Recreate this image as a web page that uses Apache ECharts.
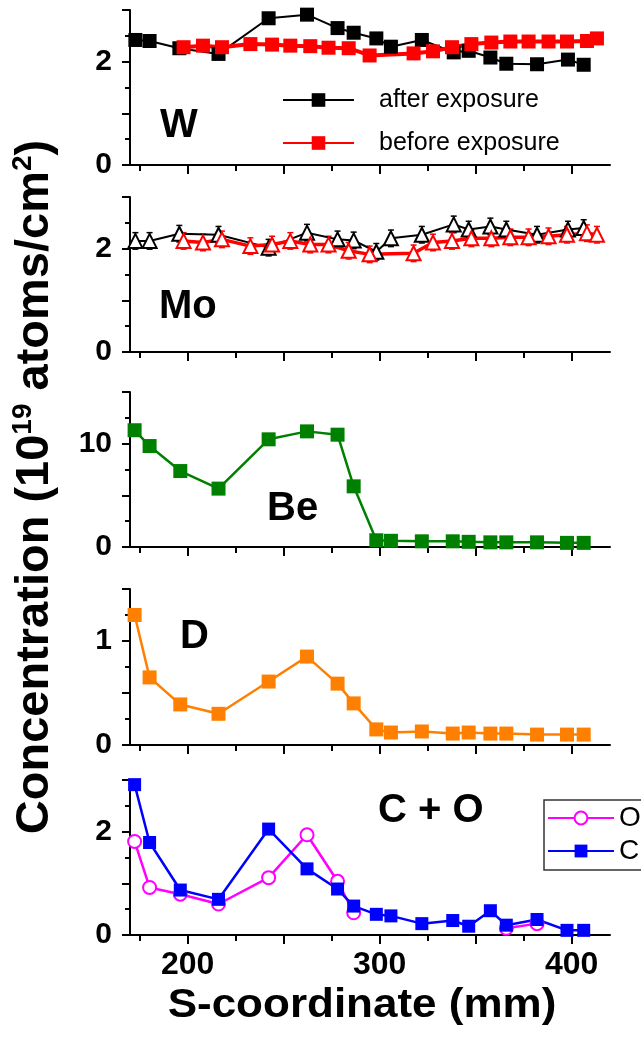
<!DOCTYPE html>
<html><head><meta charset="utf-8">
<script src="https://cdn.jsdelivr.net/npm/echarts@6/dist/echarts.min.js"></script>
<style>html,body{margin:0;padding:0;background:#fff}#c{width:641px;height:1047px}</style>
</head><body><div id="c"></div>
<script>
// ---------- data (S-coordinate in mm, concentration in 1e19 atoms/cm2) ----------
const wAfterX  = [172.8,180.2,195.7,216.1,242.2,262.2,278.1,286.5,298.3,305.9,322,338.6,346.4,357.7,366,382,398.1,406.3];
const wAfterY  = [2.42,2.40,2.26,2.15,2.84,2.91,2.65,2.56,2.45,2.29,2.42,2.18,2.21,2.08,1.96,1.95,2.04,1.94];
const wBeforeX = [197.9,208,217.9,232.7,244,253.5,263.9,273.4,283.9,294.8,317.7,327.8,337.7,347.8,358.2,368.1,377.6,388,397.6,408,413.2];
const wBeforeY = [2.28,2.31,2.28,2.34,2.33,2.31,2.30,2.27,2.26,2.12,2.16,2.20,2.28,2.34,2.37,2.39,2.39,2.39,2.39,2.40,2.45];

const moAfterX  = [172.8,180.2,195.7,216.1,242.2,262.2,278.1,286.5,298.3,305.9,322,338.6,346.4,357.7,366,382,398.1,406.3];
const moAfterY  = [2.15,2.15,2.29,2.27,2.02,2.31,2.18,2.16,1.94,2.20,2.27,2.47,2.37,2.43,2.37,2.27,2.37,2.40];
const moBeforeX = [197.9,208,217.9,232.7,244,253.5,263.9,273.4,283.9,294.8,317.7,327.8,337.7,347.8,358.2,368.1,377.6,388,397.6,408,413.2];
const moBeforeY = [2.15,2.12,2.18,2.05,2.08,2.15,2.08,2.08,1.96,1.89,1.91,2.12,2.15,2.20,2.20,2.22,2.22,2.24,2.27,2.30,2.27];
const moErr = 0.16;

const sX  = [172.4,180.2,196.2,216.1,242.2,262.2,278.1,286.5,298.3,305.9,322,338.1,346.4,357.7,366,382,397.6,406.3];
const beY = [11.3,9.77,7.35,5.65,10.42,11.19,10.87,5.87,0.65,0.60,0.55,0.55,0.50,0.45,0.45,0.45,0.40,0.40];
const dY  = [1.25,0.65,0.39,0.30,0.61,0.85,0.59,0.40,0.15,0.12,0.13,0.11,0.12,0.11,0.11,0.10,0.10,0.10];
const cY  = [2.91,1.79,0.87,0.69,2.05,1.28,0.89,0.56,0.40,0.37,0.22,0.28,0.17,0.47,0.19,0.30,0.09,0.09];
const oX  = [172.4,180.2,196.2,216.1,242.2,262.2,278.1,286.5,326,366,382];
const oY  = [1.81,0.92,0.79,0.60,1.11,1.94,1.04,0.43,null,0.13,0.22];

const xMinorTicks = [175,200,225,250,275,300,325,350,375,400];
const xMajorTicks = [200,250,300,350,400];
const xTickLabels = [200,300,400];

const panelNames = ['W','Mo','Be','D','C + O'];
const yMax      = [3, 3, 15, 1.5, 3];
const yInterval = [1, 1, 5, 0.5, 1];
const yLabels   = [[0,2],[0,2],[0,10],[0,1],[0,2]];

// ---------- layout ----------
const F = '"Liberation Sans", Arial, sans-serif';
const gridPos = [{top:10,height:155},{top:197,height:155},{top:392,height:155},{top:589,height:156},{top:780,height:155}];
const labelPos = [[160,126],[159,307],[267,509],[180,637],[378,811]];

const zip = (xs, ys) => xs.map((x,i) => [x, ys[i] == null ? '-' : ys[i]]);

const grid = [], xAxis = [], yAxis = [];
gridPos.forEach((g,i) => {
  grid.push({left:130, width:480, top:g.top, height:g.height});
  const last = i === gridPos.length - 1;
  xAxis.push({
    type:'value', gridIndex:i, min:170, max:420, position:'bottom',
    axisLine:{show:true, onZero:false, lineStyle:{color:'#000', width:2}},
    axisTick:{show:true, customValues:xMinorTicks, length:6, lineStyle:{color:'#000', width:2}},
    axisLabel:{show:last, customValues:xTickLabels, fontSize:32, fontWeight:'bold', fontFamily:F, color:'#000', margin:14},
    splitLine:{show:false}
  });
  xAxis.push({
    type:'value', gridIndex:i, min:170, max:420, position:'bottom',
    axisLine:{show:false},
    axisTick:{show:true, customValues:xMajorTicks, length:9, lineStyle:{color:'#000', width:2}},
    axisLabel:{show:false}, splitLine:{show:false}
  });
  yAxis.push({
    type:'value', gridIndex:i, min:0, max:yMax[i], interval:yInterval[i],
    axisLine:{show:true, lineStyle:{color:'#000', width:2}},
    axisTick:{show:true, length:8, lineStyle:{color:'#000', width:2}},
    minorTick:{show:true, splitNumber:2, length:5, lineStyle:{color:'#000', width:2}},
    axisLabel:{fontSize:30, fontWeight:'bold', fontFamily:F, color:'#000', margin:18,
      formatter: v => yLabels[i].indexOf(v) >= 0 ? String(v) : ''},
    splitLine:{show:false}
  });
});

function lineSeries(name, gi, data, color, symbol, size, lw, extra) {
  return Object.assign({
    name, type:'line', xAxisIndex:2*gi, yAxisIndex:gi, data,
    symbol, symbolSize:size, showSymbol:true,
    lineStyle:{color, width:lw}, itemStyle:{color},
    connectNulls:false, animation:false, z:3
  }, extra || {});
}

function errSeries(gi, xs, ys, color) {
  return {
    type:'custom', xAxisIndex:2*gi, yAxisIndex:gi, data: zip(xs, ys), animation:false, z:2,
    renderItem: (params, api) => {
      const x = api.value(0), y = api.value(1);
      const t = api.coord([x, y + moErr]), b = api.coord([x, y - moErr]);
      const st = {stroke:color, lineWidth:1.5};
      return {type:'group', children:[
        {type:'line', shape:{x1:t[0], y1:t[1], x2:b[0], y2:b[1]}, style:st},
        {type:'line', shape:{x1:t[0]-3, y1:t[1], x2:t[0]+3, y2:t[1]}, style:st},
        {type:'line', shape:{x1:b[0]-3, y1:b[1], x2:b[0]+3, y2:b[1]}, style:st}
      ]};
    }
  };
}

const series = [
  lineSeries('after exposure', 0, zip(wAfterX, wAfterY), '#000000', 'rect', 14, 2),
  lineSeries('before exposure', 0, zip(wBeforeX, wBeforeY), '#ff0000', 'rect', 14, 4),
  errSeries(1, moAfterX, moAfterY, '#000000'),
  lineSeries('Mo after', 1, zip(moAfterX, moAfterY), '#000000', 'emptyTriangle', 14, 2, {itemStyle:{color:'#000', borderWidth:1.5}}),
  errSeries(1, moBeforeX, moBeforeY, '#ff0000'),
  lineSeries('Mo before', 1, zip(moBeforeX, moBeforeY), '#ff0000', 'emptyTriangle', 14, 3.5, {itemStyle:{color:'#ff0000', borderWidth:1.5}}),
  lineSeries('Be', 2, zip(sX, beY), '#008000', 'rect', 14, 2.5),
  lineSeries('D', 3, zip(sX, dY), '#ff8000', 'rect', 14, 2.5),
  lineSeries('O', 4, zip(oX, oY), '#ff00ff', 'emptyCircle', 13, 2.5, {itemStyle:{color:'#ff00ff', borderWidth:2}}),
  lineSeries('C', 4, zip(sX, cY), '#0000ff', 'rect', 13, 2.5)
];

const graphic = panelNames.map((t,i) => ({
  type:'text', x:labelPos[i][0], y:labelPos[i][1], z:10,
  style:{text:t, font:'bold 40px ' + F, fill:'#000', textAlign:'left', textVerticalAlign:'middle', align:'left', verticalAlign:'middle'}
}));
graphic.push({
  type:'text', x:362, y:1006, scaleX:1.1, z:10,
  style:{text:'S-coordinate (mm)', font:'bold 40px ' + F, fill:'#000', textAlign:'center', textVerticalAlign:'middle', align:'center', verticalAlign:'middle'}
});
graphic.push({
  type:'text', x:35, y:487, rotation:Math.PI/2, z:10,
  style:{
    text:'{m|Concentration (10}{s|19}{m| atoms/cm}{s|2}{m|)}',
    rich:{
      m:{fontSize:47, fontWeight:'bold', fontFamily:F, fill:'#000', lineHeight:52},
      s:{fontSize:28, fontWeight:'bold', fontFamily:F, fill:'#000', lineHeight:52, verticalAlign:'top'}
    },
    textAlign:'center', textVerticalAlign:'middle', align:'center', verticalAlign:'middle'
  }
});

const option = {
  animation:false,
  backgroundColor:'#fff',
  grid, xAxis, yAxis, series, graphic,
  legend:[
    {data:['after exposure','before exposure'], orient:'vertical', left:282, top:85, padding:0,
     itemWidth:71, itemHeight:17, itemGap:13, selectedMode:false,
     textStyle:{fontSize:25, fontFamily:F, color:'#000', lineHeight:30, padding:[0,0,0,20]}},
    {data:['O','C'], orient:'vertical', left:544, top:800, padding:[2,60,3,3],
     borderColor:'#333', borderWidth:1.5, itemWidth:66, itemHeight:16, itemGap:1, selectedMode:false,
     textStyle:{fontSize:28, fontFamily:F, color:'#000', lineHeight:32}}
  ]
};
const chart = echarts.init(document.getElementById('c'), null, {renderer:'canvas'});
chart.setOption(option);
</script></body></html>
